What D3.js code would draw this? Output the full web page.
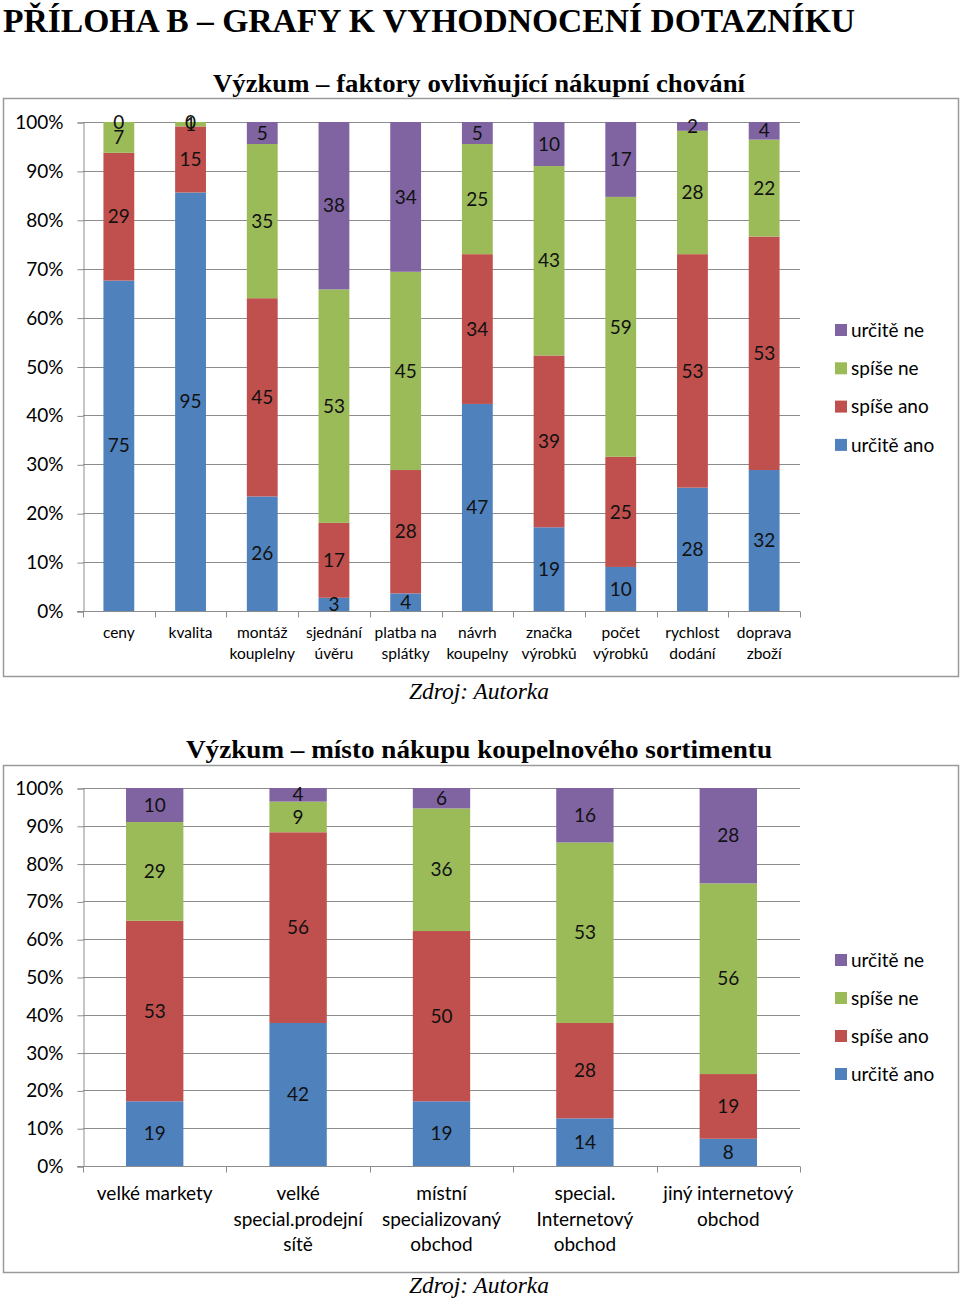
<!DOCTYPE html>
<html><head><meta charset="utf-8">
<script src="https://cdn.jsdelivr.net/npm/d3@7"></script>
<style>body{margin:0;background:#fff} svg{display:block}</style>
</head><body>
<svg id="c" width="960" height="1300"></svg>
<script>
// ---- data ----
const seriesNames = ["určitě ano", "spíše ano", "spíše ne", "určitě ne"];
const seriesColors = ["#4F81BD", "#C0504D", "#9BBB59", "#8064A2"];
const yTickValues = [0, 10, 20, 30, 40, 50, 60, 70, 80, 90, 100];

const heading = "PŘÍLOHA B – GRAFY K VYHODNOCENÍ DOTAZNÍKU";
const sourceText = "Zdroj: Autorka";

const title1 = "Výzkum – faktory ovlivňující nákupní chování";
const categories1 = ["ceny", "kvalita", "montáž|kouplelny", "sjednání|úvěru", "platba na|splátky", "návrh|koupelny", "značka|výrobků", "počet|výrobků", "rychlost|dodání", "doprava|zboží"];
const urciteAno1 = [75, 95, 26, 3, 4, 47, 19, 10, 28, 32];
const spiseAno1  = [29, 15, 45, 17, 28, 34, 39, 25, 53, 53];
const spiseNe1   = [7, 1, 35, 53, 45, 25, 43, 59, 28, 22];
const urciteNe1  = [0, 0, 5, 38, 34, 5, 10, 17, 2, 4];

const title2 = "Výzkum – místo nákupu koupelnového sortimentu";
const categories2 = ["velké markety", "velké|special.prodejní|sítě", "místní|specializovaný|obchod", "special.|Internetový|obchod", "jiný internetový|obchod"];
const urciteAno2 = [19, 42, 19, 14, 8];
const spiseAno2  = [53, 56, 50, 28, 19];
const spiseNe2   = [29, 9, 36, 53, 56];
const urciteNe2  = [10, 4, 6, 16, 28];

// ---- drawing ----
const svg = d3.select("#c");
const sansFont = "Lato, 'Open Sans', sans-serif";
const serifFont = "'Liberation Serif', 'DejaVu Serif', serif";

svg.append("text").attr("x", 3).attr("y", 32)
  .attr("font-family", serifFont).attr("font-weight", "bold").attr("font-size", 33)
  .attr("textLength", 852).attr("lengthAdjust", "spacingAndGlyphs")
  .text(heading);

function drawChart(cfg) {
  const series = [cfg.s0, cfg.s1, cfg.s2, cfg.s3];
  const rows = cfg.cats.map((c, i) => {
    const vals = series.map(s => s[i]);
    const total = d3.sum(vals);
    return {cat: c, vals, total};
  });
  const stackData = rows.map(r => {
    const o = {cat: r.cat};
    r.vals.forEach((v, k) => o["s" + k] = v / r.total * 100);
    o.raw = r.vals;
    return o;
  });
  const stack = d3.stack().keys(["s0", "s1", "s2", "s3"]);
  const layers = stack(stackData);

  const g = svg.append("g");
  // box
  g.append("rect").attr("x", cfg.box[0] + 0.5).attr("y", cfg.box[1] + 0.5)
    .attr("width", cfg.box[2]).attr("height", cfg.box[3])
    .attr("fill", "none").attr("stroke", "#9a9a9a").attr("stroke-width", 1.5);
  // title
  g.append("text").attr("x", (cfg.titleX[0] + cfg.titleX[1]) / 2).attr("y", cfg.titleY)
    .attr("text-anchor", "middle").attr("font-family", serifFont).attr("font-weight", "bold")
    .attr("font-size", 25).attr("textLength", cfg.titleX[1] - cfg.titleX[0])
    .attr("lengthAdjust", "spacingAndGlyphs").text(cfg.title);

  const x = d3.scaleBand().domain(cfg.cats).range([cfg.plot.x0, cfg.plot.x1]).paddingInner(0).paddingOuter(0);
  const y = d3.scaleLinear().domain([0, 100]).range([cfg.plot.y1, cfg.plot.y0]);

  // gridlines
  g.append("g").selectAll("line").data(yTickValues.filter(d => d > 0)).join("line")
    .attr("x1", cfg.plot.x0).attr("x2", cfg.plot.x1)
    .attr("y1", d => Math.round(y(d)) + 0.5).attr("y2", d => Math.round(y(d)) + 0.5)
    .attr("stroke", "#8c8c8c").attr("stroke-width", 1);

  // y axis
  const yAxis = d3.axisLeft(y).tickValues(yTickValues).tickFormat(d => d + "%").tickSize(6).tickPadding(14);
  const ya = g.append("g").attr("transform", `translate(${cfg.plot.x0 + 0.5},0.5)`).call(yAxis);
  ya.select(".domain").attr("stroke", "#8c8c8c");
  ya.selectAll(".tick line").attr("stroke", "#8c8c8c");
  ya.selectAll(".tick text").attr("font-family", sansFont).attr("font-size", 19).attr("fill", "#000");

  // bars
  g.append("g").selectAll("g").data(layers).join("g")
    .attr("fill", (d, i) => seriesColors[i])
    .selectAll("rect").data(d => d).join("rect")
    .attr("x", d => x(d.data.cat) + (x.bandwidth() - x.bandwidth() * cfg.barFrac) / 2)
    .attr("width", x.bandwidth() * cfg.barFrac)
    .attr("y", d => y(d[1]))
    .attr("height", d => y(d[0]) - y(d[1]));

  // x axis
  const xa = g.append("g").attr("transform", `translate(0,${cfg.plot.y1 + 0.5})`);
  xa.append("line").attr("x1", cfg.plot.x0 - 6).attr("x2", cfg.plot.x1).attr("stroke", "#8c8c8c");
  const bounds = cfg.cats.map(c => x(c)).concat([cfg.plot.x1]);
  xa.selectAll("line.tk").data(bounds).join("line").attr("class", "tk")
    .attr("x1", d => Math.round(d) + 0.5).attr("x2", d => Math.round(d) + 0.5)
    .attr("y1", 0).attr("y2", 6).attr("stroke", "#8c8c8c");
  g.append("g").selectAll("text").data(cfg.cats).join("text")
    .attr("x", d => x(d) + x.bandwidth() / 2)
    .attr("font-family", sansFont).attr("font-size", cfg.catFont).attr("text-anchor", "middle")
    .each(function (d) {
      const lines = d.split("|");
      d3.select(this).selectAll("tspan").data(lines).join("tspan")
        .attr("x", x(d) + x.bandwidth() / 2)
        .attr("y", (l, i) => cfg.catY + i * cfg.catLine)
        .text(l => l);
    });

  // data labels
  g.append("g").selectAll("g").data(layers).join("g")
    .each(function (layer, k) {
      d3.select(this).selectAll("text").data(layer).join("text")
        .attr("x", d => x(d.data.cat) + x.bandwidth() / 2)
        .attr("y", d => (y(d[0]) + y(d[1])) / 2)
        .attr("dy", "0.35em")
        .attr("text-anchor", "middle").attr("font-family", sansFont)
        .attr("font-size", cfg.valFont).attr("fill", "#111")
        .text(d => d.data.raw[k]);
    });

  // legend (reverse order)
  const order = [3, 2, 1, 0];
  const lg = g.append("g");
  order.forEach((k, i) => {
    const yy = cfg.legY + i * cfg.legStep;
    lg.append("rect").attr("x", cfg.legX).attr("y", yy - 6).attr("width", 12).attr("height", 12)
      .attr("fill", seriesColors[k]);
    lg.append("text").attr("x", cfg.legX + 16).attr("y", yy).attr("dy", "0.35em")
      .attr("font-family", sansFont).attr("font-size", 19).text(seriesNames[k]);
  });

  // source
  g.append("text").attr("x", (cfg.srcX[0] + cfg.srcX[1]) / 2).attr("y", cfg.srcY)
    .attr("text-anchor", "middle").attr("font-family", serifFont).attr("font-style", "italic")
    .attr("font-size", 23).attr("textLength", cfg.srcX[1] - cfg.srcX[0])
    .attr("lengthAdjust", "spacingAndGlyphs").text(sourceText);
}

drawChart({
  title: title1, titleX: [213, 745], titleY: 92,
  box: [3, 98, 955, 578],
  plot: {x0: 83, x1: 800, y0: 122, y1: 611},
  cats: categories1, s0: urciteAno1, s1: spiseAno1, s2: spiseNe1, s3: urciteNe1,
  barFrac: 0.43, valFont: 19, catFont: 15.5, catY: 638, catLine: 20.5,
  legX: 835, legY: 330, legStep: 38.3,
  srcX: [409, 549], srcY: 699
});

drawChart({
  title: title2, titleX: [186, 772], titleY: 758,
  box: [3, 765, 955, 507],
  plot: {x0: 83, x1: 800, y0: 788, y1: 1166},
  cats: categories2, s0: urciteAno2, s1: spiseAno2, s2: spiseNe2, s3: urciteNe2,
  barFrac: 0.40, valFont: 19, catFont: 19, catY: 1200, catLine: 25.5,
  legX: 835, legY: 960, legStep: 38,
  srcX: [409, 549], srcY: 1293
});
</script>
</body></html>
